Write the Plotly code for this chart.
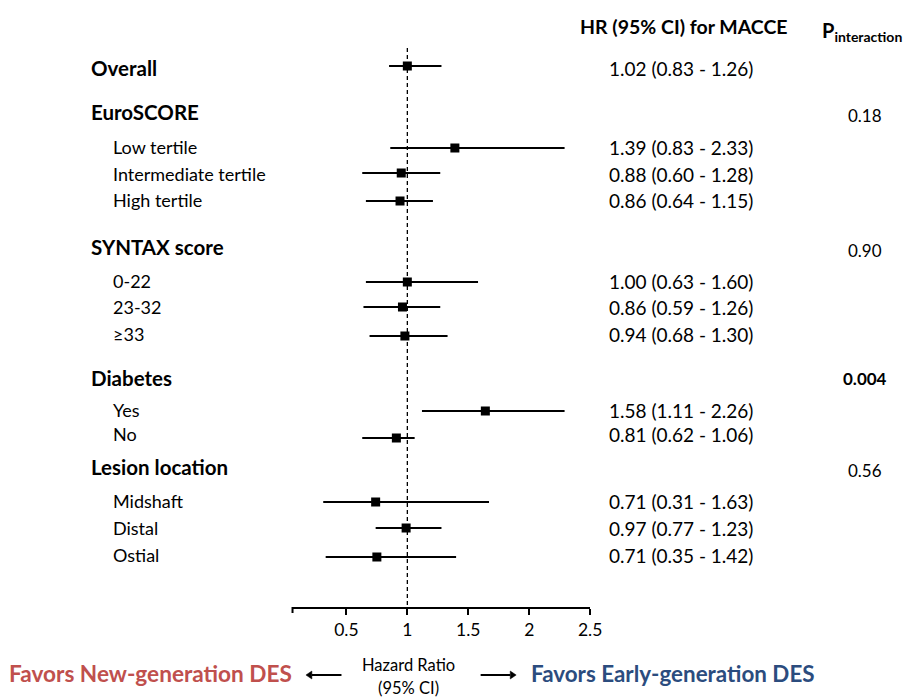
import plotly.graph_objects as go

W, H = 918, 697
FONT = "Lato"

# ---------------- data ----------------
groups = ["Overall", "EuroSCORE", "SYNTAX score", "Diabetes", "Lesion location"]
group_p = ["", "0.18", "0.90", "0.004", "0.56"]
group_p_bold = [False, False, False, True, False]

subgroups = ["Low tertile", "Intermediate tertile", "High tertile",
             "0-22", "23-32", "≥33",
             "Yes", "No",
             "Midshaft", "Distal", "Ostial"]

# HR text as printed (Overall first, then subgroups)
hr_text = ["1.02 (0.83 - 1.26)",
           "1.39 (0.83 - 2.33)", "0.88 (0.60 - 1.28)", "0.86 (0.64 - 1.15)",
           "1.00 (0.63 - 1.60)", "0.86 (0.59 - 1.26)", "0.94 (0.68 - 1.30)",
           "1.58 (1.11 - 2.26)", "0.81 (0.62 - 1.06)",
           "0.71 (0.31 - 1.63)", "0.97 (0.77 - 1.23)", "0.71 (0.35 - 1.42)"]

# plotted point estimates and CI as drawn (Overall first, then subgroups)
hr_point = [1.00, 1.39, 0.95, 0.94, 1.00, 0.96, 0.98, 1.64, 0.91, 0.74, 0.99, 0.75]
ci_low = [0.85, 0.86, 0.63, 0.66, 0.66, 0.64, 0.69, 1.12, 0.63, 0.31, 0.74, 0.33]
ci_high = [1.28, 2.29, 1.27, 1.21, 1.58, 1.27, 1.33, 2.29, 1.06, 1.67, 1.28, 1.40]

tick_vals = [0.5, 1, 1.5, 2, 2.5]
tick_text = ["0.5", "1", "1.5", "2", "2.5"]

# ---------------- layout positions (pixels) ----------------
group_y = [68, 112, 247, 378, 467]
group_p_y = [68, 115, 250, 378, 470]
sub_y = [147, 174, 200, 281, 307, 334, 410, 434, 501, 528, 555]
mark_y = [66] + [148, 173, 201, 282, 307, 336, 411, 438, 502, 528, 557]
AXIS_Y = 607
X_LO, X_HI = 0.05, 2.5
PX_LO, PX_HI = 295.4, 598.0


def px(x):
    return x / W


def py(y):
    return 1 - y / H


fig = go.Figure()

# CI lines
for lo, hi, y in zip(ci_low, ci_high, mark_y):
    fig.add_trace(go.Scatter(x=[lo, hi], y=[y, y], mode="lines",
                             line=dict(color="black", width=2),
                             hoverinfo="skip", showlegend=False))
# squares
fig.add_trace(go.Scatter(x=hr_point, y=mark_y, mode="markers",
                         marker=dict(symbol="square", size=9, color="black"),
                         showlegend=False))

# reference line at HR = 1
fig.add_shape(type="line", xref="x", yref="y", x0=1, x1=1, y0=48, y1=AXIS_Y,
              line=dict(color="black", width=1.3, dash="4px,3px"))
# tick mark at the left end of the axis
fig.add_shape(type="line", xref="paper", yref="paper",
              x0=px(PX_LO + 1), x1=px(PX_LO + 1), y0=py(AXIS_Y), y1=py(AXIS_Y + 6),
              line=dict(color="black", width=2))

ann = []
# group headers
for g, y in zip(groups, group_y):
    ann.append(dict(x=px(90), y=y, xref="paper", yref="y", text=f"<b>{g}</b>",
                    xanchor="left", yanchor="middle", showarrow=False,
                    font=dict(size=20.5, color="black", family=FONT)))
for p, b, y in zip(group_p, group_p_bold, group_p_y):
    if p:
        ann.append(dict(x=px(876), y=y, xref="paper", yref="y",
                        text=f"<b>{p}</b>" if b else p,
                        xanchor="center", yanchor="middle", showarrow=False,
                        font=dict(size=17, color="black", family=FONT)))
# subgroup labels
for s, y in zip(subgroups, sub_y):
    ann.append(dict(x=px(112), y=y, xref="paper", yref="y", text=s,
                    xanchor="left", yanchor="middle", showarrow=False,
                    font=dict(size=18, color="black", family=FONT)))
# HR text
for t, y in zip(hr_text, [68] + sub_y):
    ann.append(dict(x=px(615), y=y, xref="paper", yref="y", text=t,
                    xanchor="left", yanchor="middle", showarrow=False,
                    font=dict(size=19, color="black", family=FONT)))
# column headers
ann.append(dict(x=px(586), y=26, xref="paper", yref="y",
                text="<b>HR (95% CI) for MACCE</b>", xanchor="left", yanchor="middle",
                showarrow=False, font=dict(size=19.5, color="black", family=FONT)))
ann.append(dict(x=px(831), y=31, xref="paper", yref="y",
                text="<b>P<sub>interaction</sub></b>", xanchor="left", yanchor="middle",
                showarrow=False, font=dict(size=20, color="black", family=FONT)))

# bottom labels
ann.append(dict(x=px(7), y=py(673), xref="paper", yref="paper",
                text="<b>Favors New-generation DES</b>", xanchor="left", yanchor="middle",
                showarrow=False, font=dict(size=22.6, color="#C0504D", family=FONT)))
ann.append(dict(x=px(536), y=py(673), xref="paper", yref="paper",
                text="<b>Favors Early-generation DES</b>", xanchor="left", yanchor="middle",
                showarrow=False, font=dict(size=22.4, color="#2B4C7E", family=FONT)))
ann.append(dict(x=px(414), y=py(665), xref="paper", yref="paper",
                text="Hazard Ratio", xanchor="center", yanchor="middle",
                showarrow=False, font=dict(size=16.5, color="black", family=FONT)))
ann.append(dict(x=px(414), y=py(688), xref="paper", yref="paper",
                text="(95% CI)", xanchor="center", yanchor="middle",
                showarrow=False, font=dict(size=16.5, color="black", family=FONT)))

# arrows (lines + triangular heads)
ARROW_Y = 675
for x0, x1, tip in [(346, 316, 310), (487, 517, 523)]:
    fig.add_shape(type="line", xref="paper", yref="paper",
                  x0=px(x0), x1=px(x1), y0=py(ARROW_Y), y1=py(ARROW_Y),
                  line=dict(color="black", width=2))
    fig.add_shape(type="path", xref="paper", yref="paper",
                  path=f"M {px(tip)} {py(ARROW_Y)} L {px(x1)} {py(ARROW_Y - 4)} "
                       f"L {px(x1)} {py(ARROW_Y + 4)} Z",
                  fillcolor="black", line=dict(color="black", width=0.5))

fig.update_layout(
    width=W, height=H, autosize=False,
    margin=dict(l=0, r=0, t=0, b=0),
    paper_bgcolor="white", plot_bgcolor="white",
    annotations=ann,
    showlegend=False,
    xaxis=dict(range=[X_LO, X_HI], domain=[PX_LO / W, PX_HI / W],
               showgrid=False, zeroline=False, showline=True, linecolor="black",
               linewidth=2, ticks="outside", ticklen=6, tickwidth=2, tickcolor="black",
               tickvals=tick_vals, ticktext=tick_text,
               tickfont=dict(size=17.5, color="black", family=FONT), fixedrange=True),
    yaxis=dict(range=[AXIS_Y, 0], domain=[(H - AXIS_Y) / H, 1],
               visible=False, showgrid=False, zeroline=False, fixedrange=True),
)

fig.write_html(
    "out.html",
    config={"responsive": False, "displayModeBar": False, "staticPlot": True},
    post_script="document.body.style.margin='0';document.body.style.overflow='hidden';",
)
